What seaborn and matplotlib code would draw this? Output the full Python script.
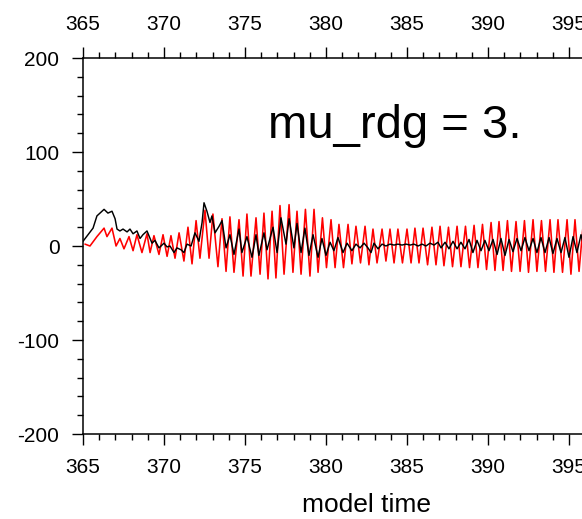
import matplotlib
matplotlib.use("Agg")
import matplotlib.pyplot as plt
from matplotlib.ticker import MultipleLocator
import numpy as np
import pandas as pd
import seaborn as sns

# ---------------- data ----------------
black_time = [365.00, 365.31, 365.62, 365.86, 366.05, 366.30, 366.54, 366.79, 366.98, 367.10,
              367.28, 367.47, 367.72, 367.90, 368.09, 368.33, 368.52, 368.70, 368.95, 369.14,
              369.26, 369.44, 369.69, 370.00, 370.19, 370.37, 370.62, 370.80, 371.05, 371.23,
              371.42, 371.67, 371.91, 372.16, 372.35, 372.47, 372.65, 372.84, 372.96, 373.15,
              373.40, 373.58, 373.83, 374.07, 374.32, 374.63, 374.81, 375.12, 375.43, 375.68,
              375.86, 376.17, 376.36, 376.73, 376.98, 377.22, 377.53, 377.72, 378.02, 378.21,
              378.46, 378.70, 378.95, 379.20, 379.51, 379.75, 380.00, 380.25, 380.49, 380.74,
              381.05, 381.30, 381.60, 381.85, 382.10, 382.35, 382.59, 382.78, 382.96, 383.21,
              383.46, 383.70, 383.95, 384.20, 384.44, 384.69, 384.94, 385.19, 385.43, 385.68,
              385.93, 386.17, 386.42, 386.67, 386.91, 387.10, 387.35, 387.59, 387.84, 388.09,
              388.33, 388.58, 388.83, 389.07, 389.32, 389.57, 389.81, 390.06, 390.31, 390.56,
              390.80, 391.05, 391.30, 391.54, 391.79, 392.04, 392.28, 392.53, 392.78, 393.02,
              393.27, 393.52, 393.77, 394.01, 394.26, 394.51, 394.75, 395.00, 395.25, 395.49,
              395.74, 395.99]
black_val = [5, 12, 19, 32, 35, 39, 35, 37, 29, 18,
             16, 18, 15, 18, 13, 16, 8, 12, 16, 8,
             3, 6, -2, 3, -1, 0, -7, -2, -4, -7,
             2, 0, 14, 5, 25, 46, 37, 25, 32, 14,
             21, 27, -2, 12, -9, 18, -7, 10, -12, 12,
             -10, 14, -4, 20, -7, 30, 2, 29, -2, 24,
             -7, 19, -10, 12, -12, 8, -10, 4, -5, 9,
             -7, 3, -5, 2, -2, 3, -2, -7, 3, -3,
             2, 0, 2, 1, 2, 1, 2, 1, 2, 0,
             2, 0, 3, 1, 4, -2, 4, -3, 5, -3,
             4, -3, 7, -7, 6, -5, 6, -5, 7, -9,
             8, -10, 7, -6, 8, -5, 9, -5, 8, -7,
             9, -7, 9, -8, 8, -7, 9, -12, 10, -7,
             12, -5]

red_time = [365.12, 365.43, 365.86, 366.30, 366.48, 366.79, 367.04, 367.28, 367.53, 367.84,
            368.09, 368.33, 368.64, 368.95, 369.14, 369.38,
            369.69, 369.94, 370.19, 370.43, 370.68, 370.93, 371.23, 371.48, 371.73, 371.98,
            372.22, 372.53, 372.78, 373.02, 373.33, 373.58, 373.83, 374.07, 374.32, 374.63,
            374.88, 375.12, 375.37, 375.68, 375.93, 376.17, 376.42, 376.67, 376.91, 377.16,
            377.41, 377.72, 377.96, 378.21, 378.46, 378.73, 379.01, 379.26, 379.51, 379.78,
            380.03, 380.31, 380.56, 380.80, 381.08, 381.36, 381.60, 381.85, 382.13, 382.41,
            382.65, 382.90, 383.15, 383.46, 383.70, 383.95, 384.20, 384.44, 384.72, 385.00,
            385.25, 385.49, 385.74, 385.99, 386.27, 386.54, 386.79, 387.04, 387.28, 387.56,
            387.81, 388.09, 388.33, 388.61, 388.86, 389.14, 389.38, 389.66, 389.91, 390.19,
            390.43, 390.68, 390.93, 391.20, 391.45, 391.73, 391.98, 392.25, 392.50, 392.78,
            393.02, 393.30, 393.55, 393.83, 394.07, 394.32, 394.60, 394.88, 395.12, 395.37,
            395.62, 395.90, 396.17]
red_val = [2, 0, 10, 19, 10, 19, 0, 8, -3, 10,
           -5, 12, -7, 13, -7, 11,
           -9, 12, -11, 11, -13, 14, -16, 20, -19, 27,
           -13, 38, -13, 34, -22, 29, -27, 31, -28, 28,
           -32, 34, -32, 30, -30, 35, -35, 37, -34, 43,
           -30, 44, -28, 37, -30, 39, -32, 39, -28, 30,
           -23, 28, -23, 23, -23, 23, -19, 21, -18, 21,
           -20, 18, -18, 18, -16, 18, -18, 18, -18, 18,
           -18, 19, -18, 19, -20, 20, -20, 21, -21, 20,
           -22, 21, -22, 21, -23, 22, -23, 23, -25, 25,
           -26, 26, -26, 27, -27, 26, -27, 27, -28, 28,
           -27, 27, -27, 28, -28, 28, -28, 28, -30, 28,
           -27, 28, -28]

x_ticks = [365, 370, 375, 380, 385, 390, 395]
y_ticks = [-200, -100, 0, 100, 200]
title_text = "mu_rdg = 3."
x_label = "model time"

# ---------------- style ----------------
sns.set_style("ticks")
plt.rcParams["font.family"] = ["Liberation Sans", "DejaVu Sans"]
plt.rcParams["axes.unicode_minus"] = False
plt.rcParams["text.color"] = "black"
plt.rcParams["axes.labelcolor"] = "black"

fig = plt.figure(figsize=(5.82, 5.19), dpi=100)
px_per_unit = 16.2
ax = fig.add_axes([83 / 582, 85 / 519, 35 * px_per_unit / 582, 376 / 519])

df_red = pd.DataFrame({"time": red_time, "value": red_val})
df_black = pd.DataFrame({"time": black_time, "value": black_val})

sns.lineplot(data=df_red, x="time", y="value", color="#ff0000", linewidth=1.15,
             estimator=None, ax=ax, zorder=2)
sns.lineplot(data=df_black, x="time", y="value", color="black", linewidth=1.05,
             estimator=None, ax=ax, zorder=3)

ax.set_xlim(365, 400)
ax.set_ylim(-200, 200)
ax.set_xticks(x_ticks)
ax.set_yticks(y_ticks)
ax.xaxis.set_minor_locator(MultipleLocator(1))
ax.yaxis.set_minor_locator(MultipleLocator(20))

for s in ax.spines.values():
    s.set_visible(True)
    s.set_linewidth(1.1)
    s.set_color("black")

ax.tick_params(which="both", direction="out", top=True, labeltop=True,
               right=True, labelsize=15, width=1.0, colors="black",
               labelcolor="black")
ax.tick_params(which="major", length=8, pad=9)
ax.tick_params(which="minor", length=4)

ax.set_xlabel(x_label, fontsize=19, labelpad=12, color="black")
ax.set_ylabel("")
ax.text(376.42, 115, title_text, fontsize=34, ha="left", va="baseline",
        color="black")

fig.savefig("out.png", dpi=100)
